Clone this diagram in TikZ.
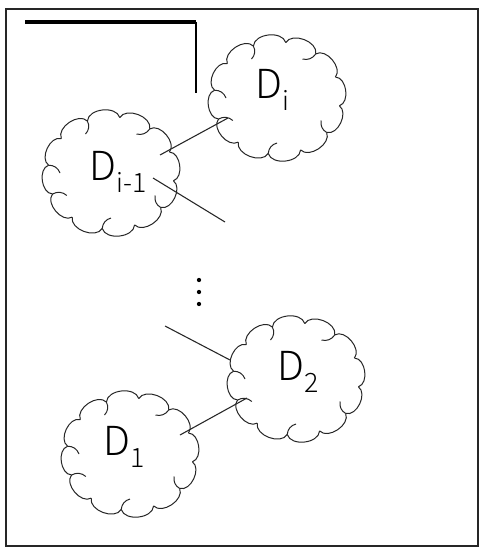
\documentclass[tikz,border=0pt]{standalone}
\usepackage{fontspec}
\setmainfont{Noto Sans CJK JP}[UprightFont={* Light}]
\usetikzlibrary{calc}
\newcommand{\mysub}[1]{\raisebox{-0.32em}{\fontsize{20}{22}\selectfont #1}}
\tikzset{
  cl/.style={draw=black!85, line width=0.75pt},
  lbl/.style={font=\fontsize{30}{32}\selectfont, inner sep=0pt},
  link/.style={draw=black!85, line width=0.8pt},
  dotm/.style={circle, fill=black, inner sep=0pt, minimum size=3.2pt},
  pics/cloudshape/.style={code={
    \fill[white] (0,0) ellipse [x radius=66, y radius=59];
    \foreach \k in {0,...,11} {
      \pgfmathsetmacro\ta{\k*30+8}
      \pgfmathsetmacro\tb{\ta+30}
      \draw[cl] (\ta:63 and 56) to[bend left=80] (\tb:63 and 56);
    }
    \foreach \k in {1,3,5,6,8,10} {
      \pgfmathsetmacro\ta{\k*30+8}
      \pgfmathsetmacro\tb{\ta-8}
      \draw[cl] (\ta:63 and 56) to[bend left=35] (\tb:51 and 45);
    }
  }}
}
\begin{document}
\begin{tikzpicture}[x=0.75pt,y=-0.75pt]
\useasboundingbox (0,0) rectangle (480,550);
\fill[white] (0,0) rectangle (480,550);
\draw[line width=1.2pt, black!85] (6,9) rectangle (478,546);
% corner marker
\coordinate (ta) at (25,22);
\coordinate (tb) at (196,22);
\coordinate (tc) at (196,93);
\draw[line width=3pt] (ta) -- (tb);
\draw[line width=1pt] (tb) -- (tc);
% clouds
\coordinate (di) at (277,98);
\coordinate (dim) at (111,173);
\coordinate (d2) at (296,379);
\coordinate (d1) at (130,454);
\pic at (di) {cloudshape};
\pic at (dim) {cloudshape};
\pic at (d2) {cloudshape};
\pic at (d1) {cloudshape};
% labels
\node[lbl] (ldi) at (272,90) {D\mysub{i}};
\node[lbl] (ldim) at (118,172) {D\mysub{i-1}};
\node[lbl] (ld2) at (298,372) {D\mysub{2}};
\node[lbl] (ld1) at (124,447) {D\mysub{1}};
% dots
\node[dotm] (v1) at (199,280) {};
\node[dotm] (v2) at (199,292) {};
\node[dotm] (v3) at (199,304) {};
% connectors
\coordinate (e2) at (225,222);
\coordinate (s3) at (165,326);
\draw[link] ($(dim)+(49,-18)$) -- ($(di)+(-49,20)$);
\draw[link] ($(dim)+(42,5)$) -- (e2);
\draw[link] (s3) -- ($(d2)+(-66,-19)$);
\draw[link] ($(d1)+(50,-19)$) -- ($(d2)+(-49,19)$);
\end{tikzpicture}
\end{document}
